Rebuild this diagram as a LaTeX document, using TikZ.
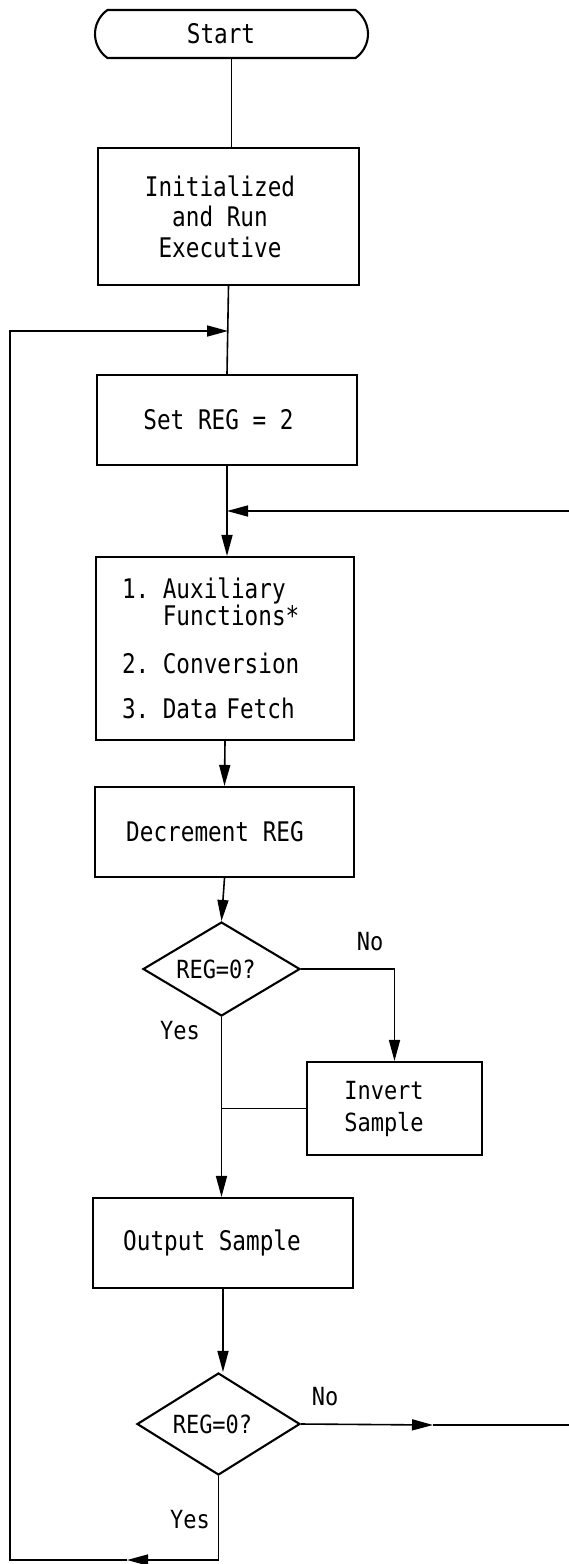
\documentclass[tikz,border=0pt]{standalone}
\usepackage{fontspec}
\usetikzlibrary{shapes.geometric,shapes.misc,arrows.meta}
\newfontfamily\boxfont[FakeStretch=0.84]{DejaVu Sans Mono}
\newfontfamily\smallfont[FakeStretch=0.88]{DejaVu Sans Mono}
\newcommand{\lsh}[2]{\hbox{#2\kern#1pt}}
\tikzset{
  box/.style={draw, line width=2.1pt, rectangle, inner sep=0pt, align=center,
    font=\boxfont\fontsize{27}{30.5}\selectfont},
  term/.style={draw, line width=2.1pt, rounded rectangle, rounded rectangle arc length=110,
    inner sep=0pt, font=\boxfont\fontsize{27}{30.5}\selectfont},
  decision/.style={draw, diamond, line width=2.1pt, inner sep=0pt, shape aspect=1.65,
    font=\smallfont\fontsize{25}{27}\selectfont},
  conn/.style={line width=1.6pt},
  arr/.style={conn, -{Triangle[length=21pt,width=11pt]}},
  lab/.style={inner sep=0pt, font=\smallfont\fontsize{25}{27}\selectfont},
}
\begin{document}
\begin{tikzpicture}[x=1pt,y=-1pt]
\useasboundingbox (0,0) rectangle (569,1564);
% nodes
\node[term, minimum width=273pt, minimum height=48pt] (start) at (231.5,34) {\lsh{21}{Start}};
\node[box, minimum width=261pt, minimum height=137pt] (init) at (228.5,216.5)
  {\lsh{17}{Initialized}\\\lsh{17}{and Run}\\\lsh{17}{Executive}};
\node[box, minimum width=260pt, minimum height=90pt] (set) at (227,420) {\lsh{17}{Set REG = 2}};
\node[box, minimum width=258pt, minimum height=183pt, text width=206pt, inner xsep=26pt,
  align=left, font=\boxfont\fontsize{27}{27}\selectfont] (aux) at (225,648.5)
  {1. Auxiliary\\\hphantom{1. }Functions*\\[21pt]2. Conversion\\[18pt]3. Data Fetch};
\node[box, minimum width=259pt, minimum height=90pt] (dec) at (224.5,832) {\lsh{19}{Decrement REG}};
\node[decision, minimum width=157pt, minimum height=94pt] (d1) at (221.5,969) {\lsh{11}{REG=0?}};
\node[box, minimum width=175pt, minimum height=93pt,
  font=\smallfont\fontsize{25}{32}\selectfont] (inv) at (394.5,1108.5)
  {\lsh{21}{Invert}\\\lsh{21}{Sample}};
\node[box, minimum width=260pt, minimum height=90pt] (out) at (223,1243) {\lsh{22}{Output Sample}};
\node[decision, minimum width=163pt, minimum height=102pt, shape aspect=1.6] (d2) at (218.5,1424) {\lsh{12}{REG=0?}};
% labels
\node[lab] (no1) at (370,942) {No};
\node[lab] (yes1) at (180,1031) {Yes};
\node[lab] (no2) at (325,1397) {No};
\node[lab] (yes2) at (190,1520) {Yes};
% coordinates
\coordinate (loopJ) at (228,331);
\coordinate (loopTL) at (10,331);
\coordinate (loopBL) at (10,1560);
\coordinate (botArr) at (127,1560);
\coordinate (joinR) at (227,511);
\coordinate (inR) at (569,511);
\coordinate (noArr) at (433,1425);
\coordinate (noR) at (569,1425);
% connectors
\draw[conn] (start.south) -- (start.south |- init.north);
\draw[conn] (init.south) -- (set.north);
\draw[arr] (set.south) -- (set.south |- aux.north);
\draw[arr] (inR) -- (joinR);
\draw[arr] (aux.south) -- (dec.north);
\draw[arr] (dec.south) -- (d1.north);
\draw[arr] (d1.east) -| (inv.north);
\draw[arr] (d1.south) -- (d1.south |- out.north);
\draw[conn] (inv.west) -- (inv.west -| d1.south);
\draw[arr] (out.south) -- (out.south |- d2.north);
\draw[arr] (d2.east) -- (noArr);
\draw[conn] (noArr) -- (noR);
\draw[arr] (d2.south) |- (botArr);
\draw[arr] (botArr) -- (loopBL) -- (loopTL) -- (loopJ);
\end{tikzpicture}
\end{document}
